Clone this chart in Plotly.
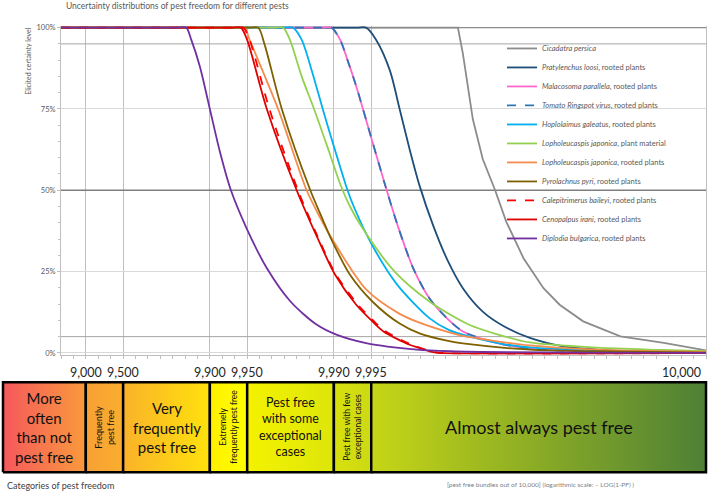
import math
import plotly.graph_objects as go

# ---------------- data ----------------
# x = -LOG10(1-PF)  (logarithmic pest-freedom scale), y = elicited certainty level (%)
cicadatra_x = [0.8, 3.92, 4.0, 4.04, 4.12, 4.20, 4.30, 4.39, 4.53, 4.69, 4.82, 5.01, 5.31, 5.66, 6.0]
cicadatra_y = [100, 100, 100, 92, 71.9, 59.6, 50, 40.3, 29, 19.9, 14.8, 9.7, 5.1, 3.1, 0.8]

pratylenchus_x = [0.8, 3.18, 3.26, 3.34, 3.45, 3.53, 3.61, 3.69, 3.80, 3.91, 4.04, 4.20, 4.37, 4.58, 4.85, 5.12, 5.39, 6.0]
pratylenchus_y = [100, 100, 100, 96.3, 87, 75, 62.7, 51.5, 39.2, 29, 19.9, 12.7, 8.2, 4.6, 2.0, 1.0, 0.5, 0.1]

malacosoma_x = [0.8, 2.90, 2.98, 3.05, 3.11, 3.18, 3.31, 3.41, 3.52, 3.64, 3.77, 3.91, 4.04, 4.31, 4.58, 4.85, 5.12, 6.0]
malacosoma_y = [100, 100, 100, 96.3, 90, 82, 65, 52, 38.5, 26, 16.8, 10.7, 6.6, 3.1, 1.3, 0.7, 0.3, 0.1]

tomato_x = [0.8, 2.90, 2.98, 3.05, 3.11, 3.18, 3.31, 3.41, 3.52, 3.64, 3.77, 3.91, 4.04, 4.31, 4.58, 4.85, 5.12, 6.0]
tomato_y = [100, 100, 100, 96.3, 90, 82, 65, 52, 38.5, 26, 16.8, 10.7, 6.6, 3.1, 1.3, 0.7, 0.3, 0.1]

hoplolaimus_x = [0.8, 2.59, 2.67, 2.74, 2.82, 2.91, 2.98, 3.06, 3.11, 3.16, 3.31, 3.51, 3.77, 3.93, 4.04, 4.31, 4.58, 5.12, 5.65, 6.0]
hoplolaimus_y = [100, 100, 100, 96.3, 87, 75, 66, 56, 50, 45, 33, 21, 10.7, 7.0, 5.6, 3.1, 1.7, 0.8, 0.4, 0.2]

lopho_pm_x = [0.8, 2.51, 2.59, 2.645, 2.74, 2.84, 2.96, 3.05, 3.13, 3.22, 3.49, 3.77, 3.95, 4.10, 4.31, 4.58, 5.12, 5.65, 6.0]
lopho_pm_y = [100, 100, 100, 96.3, 85, 75, 62, 52, 45, 39, 25, 15.8, 11.5, 8.5, 5.8, 3.2, 1.6, 0.9, 0.5]

lopho_rp_x = [0.8, 2.20, 2.28, 2.32, 2.55, 2.78, 2.89, 2.97, 3.26, 3.53, 3.69, 3.93, 4.04, 4.58, 5.12, 5.65, 6.0]
lopho_rp_y = [100, 100, 100, 96.3, 75, 50, 41.5, 36, 19.5, 12, 9.3, 6.3, 5.2, 2.3, 1.0, 0.5, 0.3]

pyrolachnus_x = [0.8, 2.31, 2.39, 2.44, 2.58, 2.81, 2.91, 2.97, 3.13, 3.31, 3.53, 3.69, 3.93, 4.04, 4.58, 5.12, 6.0]
pyrolachnus_y = [100, 100, 100, 95, 75, 50, 41, 35.7, 24, 15.8, 9, 6.0, 3.6, 2.9, 1.0, 0.5, 0.1]

calepitrimerus_x = [0.8, 2.19, 2.27, 2.32, 2.48, 2.71, 2.89, 3.01, 3.19, 3.32, 3.41, 3.62, 3.70, 3.78, 3.86, 6.0]
calepitrimerus_y = [100, 100, 100, 96.3, 75, 50, 34, 24.5, 15, 9.8, 6.8, 2.6, 1.5, 0.5, 0, 0]

cenopalpus_x = [0.8, 2.17, 2.25, 2.30, 2.46, 2.70, 2.89, 3.01, 3.18, 3.31, 3.40, 3.61, 3.69, 3.77, 3.85, 6.0]
cenopalpus_y = [100, 100, 100, 96.3, 74.9, 50, 33.5, 24, 14.8, 9.7, 6.6, 2.5, 1.5, 0.5, 0, 0]

diplodia_x = [0.8, 1.73, 1.81, 1.85, 1.92, 2.0, 2.08, 2.17, 2.30, 2.46, 2.65, 2.86, 3.02, 3.26, 3.67, 3.94, 4.4, 5.0, 6.0]
diplodia_y = [100, 100, 100, 96.3, 88, 75, 62, 50, 38, 26, 15.8, 8.7, 5.6, 3.0, 1.0, 0.5, 0.2, 0.1, 0]

series_names = [
    "<i>Cicadatra persica</i>",
    "<i>Pratylenchus loosi</i>, rooted plants",
    "<i>Malacosoma parallela</i>, rooted plants",
    "<i>Tomato Ringspot virus</i>, rooted plants",
    "<i>Hoplolaimus galeatus</i>, rooted plants",
    "<i>Lopholeucaspis japonica</i>, plant material",
    "<i>Lopholeucaspis japonica</i>, rooted plants",
    "<i>Pyrolachnus pyri</i>, rooted plants",
    "<i>Calepitrimerus baileyi</i>, rooted plants",
    "<i>Cenopalpus irani</i>, rooted plants",
    "<i>Diplodia bulgarica</i>, rooted plants",
]
series_x = [cicadatra_x, pratylenchus_x, malacosoma_x, tomato_x, hoplolaimus_x, lopho_pm_x,
            lopho_rp_x, pyrolachnus_x, calepitrimerus_x, cenopalpus_x, diplodia_x]
series_y = [cicadatra_y, pratylenchus_y, malacosoma_y, tomato_y, hoplolaimus_y, lopho_pm_y,
            lopho_rp_y, pyrolachnus_y, calepitrimerus_y, cenopalpus_y, diplodia_y]

# y-axis ticks
y_tickvals = [0, 25, 50, 75, 100]
y_ticktext = ["0%", "25%", "50%", "75%", "100%"]

# category boundaries (pest free bundles out of 10,000)
boundary_bundles = [9000, 9500, 9900, 9950, 9990, 9995]
boundary_labels = ["9,000", "9,500", "9,900", "9,950", "9,990", "9,995"]
end_label = "10,000"
category_names = [
    "More<br>often<br>than not<br>pest free",
    "Frequently<br>pest free",
    "Very<br>frequently<br>pest free",
    "Extremely<br>frequently pest free",
    "Pest free<br>with some<br>exceptional<br>cases",
    "Pest free with few<br>exceptional cases",
    "Almost always pest free",
]

# ---------------- styles ----------------
series_colors = ["#8C8C8C", "#1F4E79", "#FF66CC", "#2E75B6", "#00B0F0", "#92D050",
                 "#F58B4C", "#7F6000", "#FF0000", "#E00000", "#7030A0"]
series_dash = ["solid", "solid", "solid", "dash", "solid", "solid",
               "solid", "solid", "dash", "solid", "solid"]
series_shape = ["linear"] + ["spline"] * 10

category_colors = [("#F5585C", "#F99A3C"), ("#F8A035", "#F9AE2E"), ("#FAB22A", "#FFE20C"),
                   ("#FFF000", "#FFFF00"), ("#F4F200", "#DDE60A"), ("#D8E00E", "#CCD914"),
                   ("#C6D616", "#4E8036")]
category_font = [15, 9, 15, 8.5, 12.5, 8.5, 18]
category_angle = [0, -90, 0, -90, 0, -90, 0]

FONT = "Lato, 'Open Sans', sans-serif"
W, H = 709, 494
ML, MR, MT, MB = 1, 1, 26, 1
PW, PH = W - ML - MR, H - MT - MB


def px_x(px):
    return (px - ML) / PW


def py_y(py):
    return (H - MB - py) / PH


X_MIN, X_MAX = 0.8, 6.0
plot_left_px, plot_right_px = 61, 706
ppu = (plot_right_px - plot_left_px) / (X_MAX - X_MIN)
x2_range = [X_MIN - (plot_left_px - ML) / ppu, X_MAX + (W - MR - plot_right_px) / ppu]
box_left = X_MIN - (plot_left_px - 3) / ppu

fig = go.Figure()

for name, xs, ys, c, d, s in zip(series_names, series_x, series_y, series_colors, series_dash, series_shape):
    fig.add_trace(go.Scatter(
        x=xs, y=ys, mode="lines", name=name,
        line=dict(color=c, width=1.8, dash=d, shape=s, smoothing=0.8),
        hoverinfo="skip"))

# category boxes
bounds_v = [box_left] + [-math.log10(1 - b / 10000) for b in boundary_bundles] + [X_MAX]
yb, yt = 0.04, 0.955
for i, (cname, (c0, c1)) in enumerate(zip(category_names, category_colors)):
    l, r = bounds_v[i], bounds_v[i + 1]
    fig.add_trace(go.Scatter(
        x=[l, r, r, l, l], y=[yb, yb, yt, yt, yb], mode="lines",
        fill="toself", fillcolor=c0,
        fillgradient=dict(type="horizontal", colorscale=[[0, c0], [1, c1]]),
        line=dict(color="black", width=2.5),
        xaxis="x2", yaxis="y2", showlegend=False, hoverinfo="skip"))
    fig.add_annotation(x=(l + r) / 2, y=(yb + yt) / 2, xref="x2", yref="y2",
                       xanchor="center", yanchor="middle",
                       text=cname, showarrow=False, textangle=category_angle[i],
                       font=dict(family=FONT, size=category_font[i], color="#111111"),
                       align="center")

# boundary labels
label_y = py_y(374.5)
for b, lab in zip(boundary_bundles, boundary_labels):
    fig.add_annotation(x=-math.log10(1 - b / 10000), y=label_y, xref="x", yref="paper",
                       text=lab, showarrow=False, xanchor="center", yanchor="middle",
                       font=dict(family=FONT, size=12.5, color="#262626"))
fig.add_annotation(x=5.8, y=label_y, xref="x", yref="paper", text=end_label,
                   showarrow=False, xanchor="center", yanchor="middle",
                   font=dict(family=FONT, size=12.5, color="#262626"))

# reference lines
for lvl, col, wd in [(5, "#A6A6A6", 1), (95, "#A6A6A6", 1), (50, "#7F7F7F", 1.3), (100, "#8C8C8C", 1.3)]:
    fig.add_shape(type="line", xref="x", yref="y", x0=X_MIN, x1=X_MAX, y0=lvl, y1=lvl,
                  line=dict(color=col, width=wd), layer="between")

# texts
fig.add_annotation(x=px_x(28), y=py_y(61), xref="paper", yref="paper",
                   xanchor="center", yanchor="middle",
                   text="Elicited certainty level", textangle=-90, showarrow=False,
                   font=dict(family=FONT, size=7, color="#595959"))
fig.add_annotation(x=px_x(5), y=py_y(488), xref="paper", yref="paper",
                   xanchor="left", yanchor="middle",
                   text="Categories of pest freedom", showarrow=False,
                   font=dict(family=FONT, size=9, color="#404040"))
fig.add_annotation(x=px_x(540), y=py_y(487), xref="paper", yref="paper",
                   xanchor="center", yanchor="middle",
                   text="[pest free bundles out of 10,000] (logarithmic scale: \u2013 LOG(1-PF) )",
                   showarrow=False, font=dict(family=FONT, size=6.5, color="#7F7F7F"))

ydom_bottom = py_y(355 + 0.5 * 3.275)

fig.update_layout(
    width=W, height=H,
    margin=dict(l=ML, r=MR, t=MT, b=MB),
    paper_bgcolor="white", plot_bgcolor="white",
    title=dict(text="Uncertainty distributions of pest freedom for different pests",
               x=66 / W, xanchor="left", xref="container",
               y=1 - 6 / H, yanchor="middle", yref="container",
               font=dict(family=FONT, size=8.5, color="#595959")),
    xaxis=dict(domain=[px_x(plot_left_px), px_x(plot_right_px)], range=[X_MIN, X_MAX],
               tickmode="array", tickvals=[-math.log10(1 - b / 10000) for b in boundary_bundles],
               showticklabels=False, ticks="", showgrid=True, gridcolor="#BFBFBF", gridwidth=1,
               zeroline=False, showline=True, linecolor="#BFBFBF", linewidth=1,
               minor=dict(dtick=0.1, tick0=X_MIN, ticks="outside", ticklen=3,
                          tickcolor="#BFBFBF", showgrid=False)),
    yaxis=dict(domain=[ydom_bottom, 1], range=[-0.5, 100.5],
               tickmode="array", tickvals=y_tickvals, ticktext=y_ticktext,
               ticks="outside", ticklen=3, tickcolor="#BFBFBF",
               tickfont=dict(family=FONT, size=7.5, color="#595959"),
               showgrid=True, gridcolor="#D9D9D9", zeroline=False,
               showline=True, linecolor="#BFBFBF", mirror=True,
               minor=dict(dtick=5, ticks="outside", ticklen=2, tickcolor="#BFBFBF", showgrid=False)),
    xaxis2=dict(domain=[0, 1], range=x2_range, visible=False, anchor="y2"),
    yaxis2=dict(domain=[py_y(479), py_y(380)], range=[0, 1], visible=False, anchor="x2"),
    legend=dict(x=px_x(502), y=py_y(34), xanchor="left", yanchor="top",
                bgcolor="rgba(0,0,0,0)", font=dict(family=FONT, size=7.5, color="#595959"),
                itemwidth=30, tracegroupgap=0),
    showlegend=True,
)

fig.write_html("out.html", config={"displayModeBar": False},
               post_script="document.body.style.margin='0';")
